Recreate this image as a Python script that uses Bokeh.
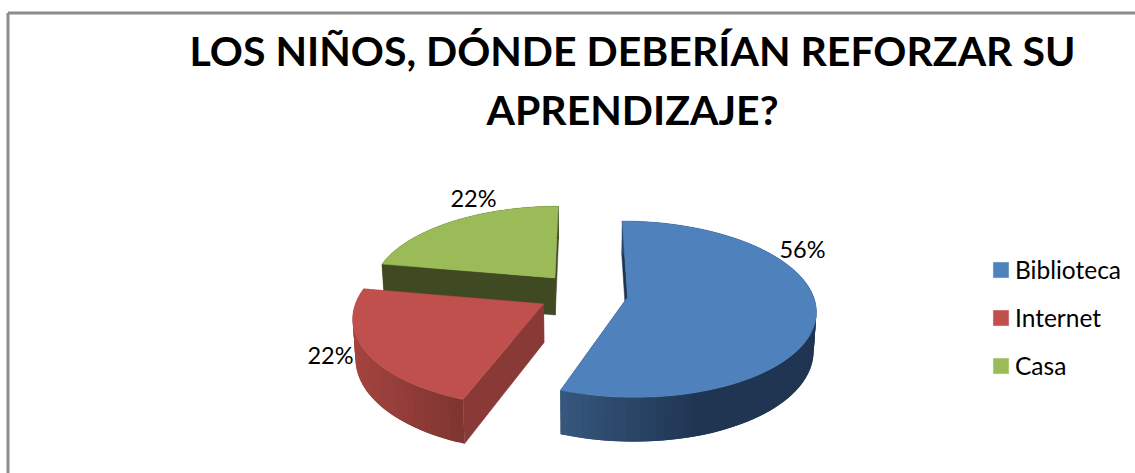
import math
from bokeh.core.properties import value
from bokeh.embed import file_html
from bokeh.models import Legend, LegendItem, Range1d
from bokeh.plotting import figure
from bokeh.resources import INLINE

categories = ["Biblioteca", "Internet", "Casa"]
shares = [55.6, 22.2, 22.2]
title_lines = ["LOS NIÑOS, DÓNDE DEBERÍAN REFORZAR SU", "APRENDIZAJE?"]

top_colors = ["#4F81BD", "#C0504D", "#9BBB59"]
radial_colors = ["#1F3552", "#8A3A36", "#3F4A23"]
rim_left_colors = ["#36587F", "#A5443F", "#3F4A23"]
rim_right_colors = ["#1F3552", "#7F3531", "#3F4A23"]
rim_span = [0.55, 1.0, 1.0]

FONT = "Lato"
W, H = 1135, 473
CX, CY, RX, RY = 582.6, 293.0, 185.0, 85.5
PERSPECTIVE, EXPLODE, DEPTH, CONVERGE = 0.136, 0.243, 38.0, 0.012

p = figure(width=W, height=H, output_backend="svg", toolbar_location=None,
           x_range=Range1d(0, W), y_range=Range1d(H, 0), min_border=0)
p.axis.visible = False
p.grid.visible = False
p.outline_line_color = None
p.background_fill_color = "white"


def project(X, Y, z=0.0):
    w = 1 + PERSPECTIVE * Y
    x = RX * X / w * (1 - CONVERGE * z)
    return CX + x, CY - RY * Y / w + z * DEPTH / w


def mix(c1, c2, t):
    a = [int(c1[i:i + 2], 16) for i in (1, 3, 5)]
    b = [int(c2[i:i + 2], 16) for i in (1, 3, 5)]
    return "#%02x%02x%02x" % tuple(round(u + (v - u) * t) for u, v in zip(a, b))


# frame lines of the chart area
p.segment(x0=[7.5, 7.5], y0=[12.5, 12.5], x1=[W, 7.5], y1=[12.5, H],
          line_color="#8C8C8C", line_width=3)

# slice angles, clockwise from twelve o'clock
total = sum(shares)
slices = []
start = 0.0
for s in shares:
    sweep = 360.0 * s / total
    slices.append((start, start + sweep))
    start += sweep

order = [2, 1, 0]  # back to front
legend_renderers = {}
for i in order:
    a0, a1 = slices[i]
    mid = math.radians((a0 + a1) / 2)
    ex, ey = EXPLODE * math.sin(mid), EXPLODE * math.cos(mid)
    steps = max(12, int((a1 - a0) / 2))
    angs = [math.radians(a0 + (a1 - a0) * k / steps) for k in range(steps + 1)]
    rim = [(ex + math.sin(t), ey + math.cos(t)) for t in angs]

    # radial walls
    xs, ys = [], []
    for (X, Y) in (rim[0], rim[-1]):
        pts = [project(X, Y), project(ex, ey), project(ex, ey, 1), project(X, Y, 1)]
        xs.append([q[0] for q in pts])
        ys.append([q[1] for q in pts])
    p.patches(xs, ys, fill_color=radial_colors[i], line_color=radial_colors[i], line_width=0.5)

    # outer curved wall, shaded by its position left to right on the page
    screen_x = [project(X, Y)[0] for X, Y in rim]
    xmin, xmax = min(screen_x), max(screen_x)
    xs, ys, cs = [], [], []
    for k in range(steps):
        A, B = rim[k], rim[min(k + 2, steps)]
        pts = [project(*A), project(*B), project(*B, 1), project(*A, 1)]
        xs.append([q[0] for q in pts])
        ys.append([q[1] for q in pts])
        t = (screen_x[k] - xmin) / (xmax - xmin) / rim_span[i]
        cs.append(mix(rim_left_colors[i], rim_right_colors[i], min(1.0, t)))
    p.patches(xs, ys, fill_color=cs, line_color=None)

    # top face
    pts = [project(ex, ey)] + [project(X, Y) for X, Y in rim]
    legend_renderers[i] = p.patch([q[0] for q in pts], [q[1] for q in pts],
                                  fill_color=top_colors[i], line_color=top_colors[i], line_width=0.5)

# data labels
label_x = [802, 330, 473]
label_y = [248.5, 354.5, 197.5]
p.text(x=label_x, y=label_y, text=[f"{round(s)}%" for s in shares], text_font=value(FONT),
       text_font_size="23.5px", text_color="#000000", text_align="center", text_baseline="middle")

# title
p.text(x=[632, 632], y=[50, 109], text=title_lines, text_font=value(FONT), text_font_style="bold",
       text_font_size="41px", text_color="#000000", text_align="center", text_baseline="middle")

legend = Legend(
    items=[LegendItem(label=c, renderers=[legend_renderers[i]]) for i, c in enumerate(categories)],
    location=(991, 93), orientation="vertical", border_line_color=None,
    background_fill_alpha=0, glyph_width=19, glyph_height=19, label_standoff=5, spacing=19,
    padding=0, margin=0, label_text_font=FONT, label_text_font_size="24.5px", label_text_color="#000000",
)
p.add_layout(legend, "center")

open("out.html", "w").write(file_html(p, INLINE))
